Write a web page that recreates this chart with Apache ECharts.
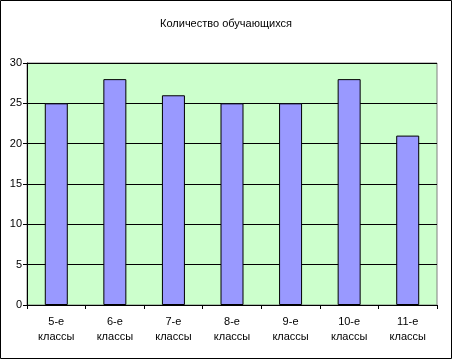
<!DOCTYPE html>
<html><head><meta charset="utf-8">
<script src="https://cdn.jsdelivr.net/npm/echarts@6/dist/echarts.min.js"></script>
<style>html,body{margin:0;padding:0;background:#fff}#c{width:452px;height:359px}</style>
</head><body><div id="c"></div>
<script>
const categories = ["5-е\nклассы","6-е\nклассы","7-е\nклассы","8-е\nклассы","9-е\nклассы","10-е\nклассы","11-е\nклассы"];
const values = [25, 28, 26, 25, 25, 28, 21];
const titleText = "Количество обучающихся";
const chart = echarts.init(document.getElementById('c'), null, {renderer:'canvas'});
const font = 'Liberation Sans, Arial, sans-serif';
chart.setOption({
  animation:false,
  backgroundColor:'#fff',
  title:{text:titleText,left:'center',top:13,textStyle:{fontFamily:font,fontSize:11,fontWeight:'normal',color:'#000'}},
  grid:{left:27,right:15,top:63,bottom:54,show:true,backgroundColor:'#CCFFCC',borderColor:'#808080',borderWidth:1},
  xAxis:{type:'category',data:categories,
    axisLine:{lineStyle:{color:'#000',width:1}},
    axisTick:{show:true,length:4,inside:false,lineStyle:{color:'#000'}},
    axisLabel:{fontFamily:font,fontSize:11,color:'#000',margin:9,lineHeight:15}},
  yAxis:{type:'value',min:0,max:30,interval:5,
    axisLine:{show:true,lineStyle:{color:'#000',width:1}},
    axisTick:{show:true,length:4,lineStyle:{color:'#000'}},
    axisLabel:{fontFamily:font,fontSize:11,color:'#000',margin:5},
    splitLine:{show:true,lineStyle:{color:'#000',width:1}}},
  series:[{type:'bar',data:values,barWidth:23,
    itemStyle:{color:'#9999FF',borderColor:'#000',borderWidth:1}}],
  graphic:[{type:'rect',shape:{x:0.5,y:0.5,width:451,height:358},style:{fill:null,stroke:'#000',lineWidth:1},z:100}]
});
</script></body></html>
